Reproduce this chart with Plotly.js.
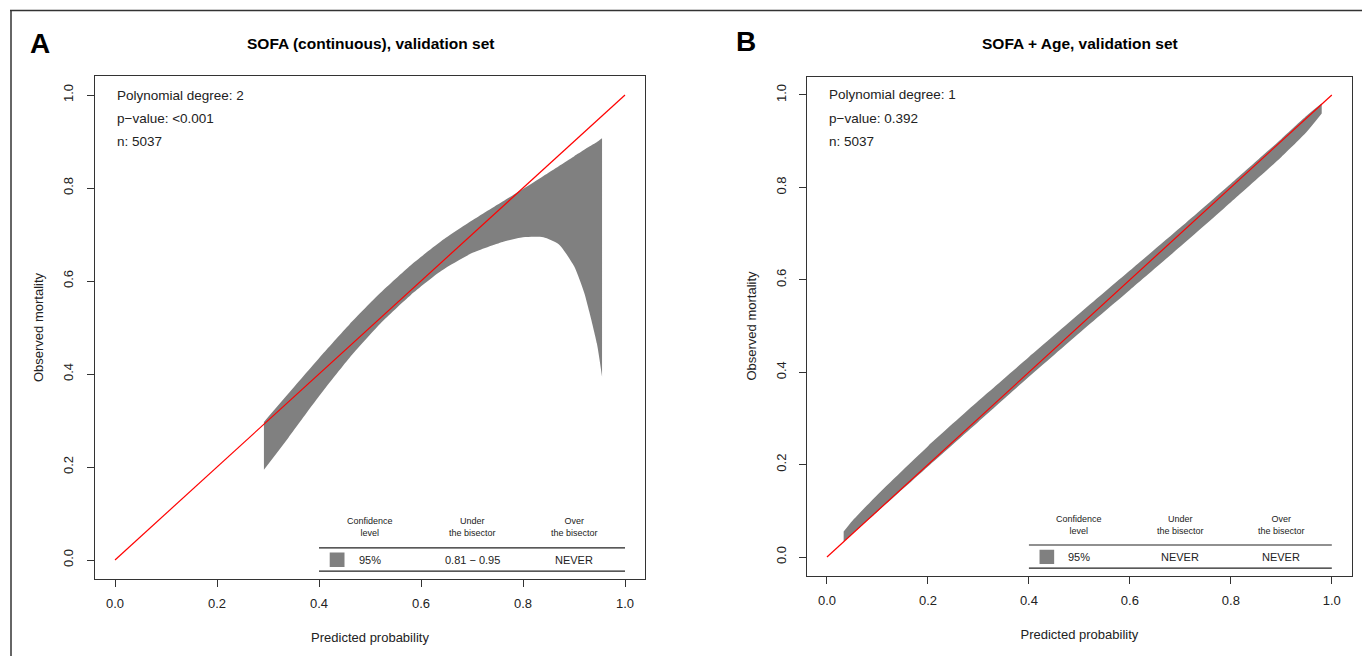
<!DOCTYPE html>
<html>
<head>
<meta charset="utf-8">
<script src="https://cdn.plot.ly/plotly-3.0.1.min.js"></script>
<style>html,body{margin:0;padding:0;background:#fff;}#chart{width:1362px;height:656px;}</style>
</head>
<body>
<div id="chart"></div>
<script>
// ---- Data: Panel A (SOFA continuous) ----
const xA = [0.292, 0.34, 0.40, 0.46, 0.52, 0.58, 0.64, 0.70, 0.76, 0.80, 0.84, 0.87, 0.90, 0.92, 0.93, 0.945, 0.955];
const upperA = [0.297, 0.358, 0.434, 0.507, 0.574, 0.634, 0.686, 0.730, 0.771, 0.798, 0.826, 0.847, 0.868, 0.882, 0.889, 0.899, 0.907];
const lowerA = [0.194, 0.263, 0.352, 0.435, 0.508, 0.570, 0.622, 0.660, 0.684, 0.694, 0.694, 0.679, 0.632, 0.575, 0.534, 0.465, 0.394];
// ---- Data: Panel B (SOFA + Age) ----
const xB = [0.033, 0.05, 0.10, 0.15, 0.20, 0.30, 0.40, 0.50, 0.60, 0.70, 0.80, 0.90, 0.95, 0.98];
const upperB = [0.055, 0.078, 0.135, 0.188, 0.240, 0.338, 0.433, 0.527, 0.620, 0.713, 0.808, 0.905, 0.955, 0.982];
const lowerB = [0.033, 0.050, 0.098, 0.147, 0.196, 0.293, 0.390, 0.485, 0.578, 0.672, 0.768, 0.866, 0.920, 0.960];
// bisector
const bisector = [0, 1];
// tick labels
const tickVals = [0, 0.2, 0.4, 0.6, 0.8, 1.0];
const tickText = ['0.0', '0.2', '0.4', '0.6', '0.8', '1.0'];
// texts
const panelTitles = ['SOFA (continuous), validation set', 'SOFA + Age, validation set'];
const panelLetters = ['A', 'B'];
const polyDegree = ['2', '1'];
const pValues = ['<0.001', '0.392'];
const nValues = ['5037', '5037'];
const tableHeaders = ['Confidence<br>level', 'Under<br>the bisector', 'Over<br>the bisector'];
const confLevel = ['95%', '95%'];
const underBisector = ['0.81 \u2212 0.95', 'NEVER'];
const overBisector = ['NEVER', 'NEVER'];

const FONT = 'Liberation Sans, Arial, sans-serif';
const TXT = '#222';
const GRAY = '#808080';

function band(x, up, lo, xa, ya) {
  return [
    {x: x, y: lo, xaxis: xa, yaxis: ya, type: 'scatter', mode: 'lines',
     line: {width: 0, color: GRAY, shape: 'spline', smoothing: 0.6}, hoverinfo: 'skip', showlegend: false},
    {x: x, y: up, xaxis: xa, yaxis: ya, type: 'scatter', mode: 'lines', fill: 'tonexty',
     fillcolor: GRAY, line: {width: 0, color: GRAY, shape: 'spline', smoothing: 0.6}, hoverinfo: 'skip', showlegend: false}
  ];
}
function diag(xa, ya) {
  return {x: bisector, y: bisector, xaxis: xa, yaxis: ya, type: 'scatter', mode: 'lines',
    line: {color: '#ff0000', width: 1.2}, showlegend: false, hoverinfo: 'skip'};
}

const data = [].concat(
  band(xA, upperA, lowerA, 'x', 'y'), [diag('x', 'y')],
  band(xB, upperB, lowerB, 'x2', 'y2'), [diag('x2', 'y2')]
);

function xax(domain) {
  return {
    domain: domain, range: [-0.04, 1.04], showgrid: false, zeroline: false,
    showline: true, mirror: true, linecolor: '#333', linewidth: 1,
    ticks: 'outside', ticklen: 7, tickcolor: '#333', tickwidth: 1,
    tickvals: tickVals, ticktext: tickText, ticklabelstandoff: 6,
    tickfont: {family: FONT, size: 13, color: TXT},
    title: {text: 'Predicted probability', font: {family: FONT, size: 13, color: TXT}, standoff: 22},
    automargin: false, fixedrange: true
  };
}
function yax(domain, anchor) {
  return {
    domain: domain, range: [-0.04, 1.04], showgrid: false, zeroline: false, anchor: anchor,
    showline: true, mirror: true, linecolor: '#333', linewidth: 1,
    ticks: 'outside', ticklen: 7, tickcolor: '#333', tickwidth: 1,
    tickvals: tickVals, ticktext: tickText, tickangle: -90, ticklabelstandoff: 8,
    tickfont: {family: FONT, size: 13, color: TXT},
    title: {text: 'Observed mortality', font: {family: FONT, size: 13, color: TXT}, standoff: 14},
    automargin: false, fixedrange: true
  };
}

const annotations = [];
const shapes = [];
const W = 1362, H = 656;
const refs = [['x', 'y'], ['x2', 'y2']];
const letterPos = [[40, 43], [746, 41]];
const titleX = [370, 1080];

for (let i = 0; i < 2; i++) {
  const [xr, yr] = refs[i];
  annotations.push({xref: 'paper', yref: 'paper', x: letterPos[i][0] / W, y: 1 - letterPos[i][1] / H,
    text: '<b>' + panelLetters[i] + '</b>', showarrow: false, xanchor: 'center', yanchor: 'middle',
    font: {family: FONT, size: 28, color: '#000'}});
  annotations.push({xref: 'paper', yref: 'paper', x: titleX[i] / W, y: 1 - 43 / H,
    text: '<b>' + panelTitles[i] + '</b>', showarrow: false, xanchor: 'center', yanchor: 'middle',
    font: {family: FONT, size: 15.5, color: '#000'}});
  const stats = ['Polynomial degree: ' + polyDegree[i], 'p\u2212value: ' + pValues[i], 'n: ' + nValues[i]];
  const sy = [1.0, 0.95, 0.90];
  stats.forEach((s, k) => annotations.push({xref: xr, yref: yr, x: 0, y: sy[k], text: s, showarrow: false,
    xanchor: 'left', yanchor: 'middle', font: {family: FONT, size: 13.5, color: TXT}}));
  // table headers
  const colX = [0.5, 0.7, 0.9];
  tableHeaders.forEach((h, k) => annotations.push({xref: xr, yref: yr, x: colX[k], y: 0.07, text: h,
    showarrow: false, xanchor: 'center', yanchor: 'middle', font: {family: FONT, size: 9, color: TXT}}));
  const row = [confLevel[i], underBisector[i], overBisector[i]];
  row.forEach((r, k) => annotations.push({xref: xr, yref: yr, x: colX[k], y: 0.0, text: r,
    showarrow: false, xanchor: 'center', yanchor: 'middle', font: {family: FONT, size: 11, color: TXT}}));
  // table rules
  shapes.push({type: 'line', xref: xr, yref: yr, x0: 0.4, x1: 1.0, y0: 0.026, y1: 0.026, line: {color: '#222', width: 1.2}});
  shapes.push({type: 'line', xref: xr, yref: yr, x0: 0.4, x1: 1.0, y0: -0.024, y1: -0.024, line: {color: '#222', width: 1.2}});
  // legend swatch
  shapes.push({type: 'rect', xref: xr, yref: yr, x0: 0.421, x1: 0.450, y0: -0.015, y1: 0.016,
    fillcolor: GRAY, line: {width: 0}});
}
// outer figure border (top and left)
shapes.push({type: 'line', xref: 'paper', yref: 'paper', x0: 10 / W, x1: 1, y0: 1 - 10.5 / H, y1: 1 - 10.5 / H, line: {color: '#333', width: 1.5}});
shapes.push({type: 'line', xref: 'paper', yref: 'paper', x0: 11 / W, x1: 11 / W, y0: 0, y1: 1 - 10 / H, line: {color: '#333', width: 1.5}});

const layout = {
  width: W, height: H, margin: {l: 0, r: 0, t: 0, b: 0},
  paper_bgcolor: '#fff', plot_bgcolor: '#fff', showlegend: false,
  xaxis: xax([94.6 / W, 645.4 / W]),
  yaxis: yax([1 - 578.6 / H, 1 - 76.4 / H], 'x'),
  xaxis2: Object.assign(xax([806.8 / W, 1352 / W]), {anchor: 'y2'}),
  yaxis2: yax([1 - 575.5 / H, 1 - 76.5 / H], 'x2'),
  annotations: annotations, shapes: shapes
};
layout.xaxis.anchor = 'y';

Plotly.newPlot('chart', data, layout, {staticPlot: true, displayModeBar: false});
</script>
</body>
</html>
